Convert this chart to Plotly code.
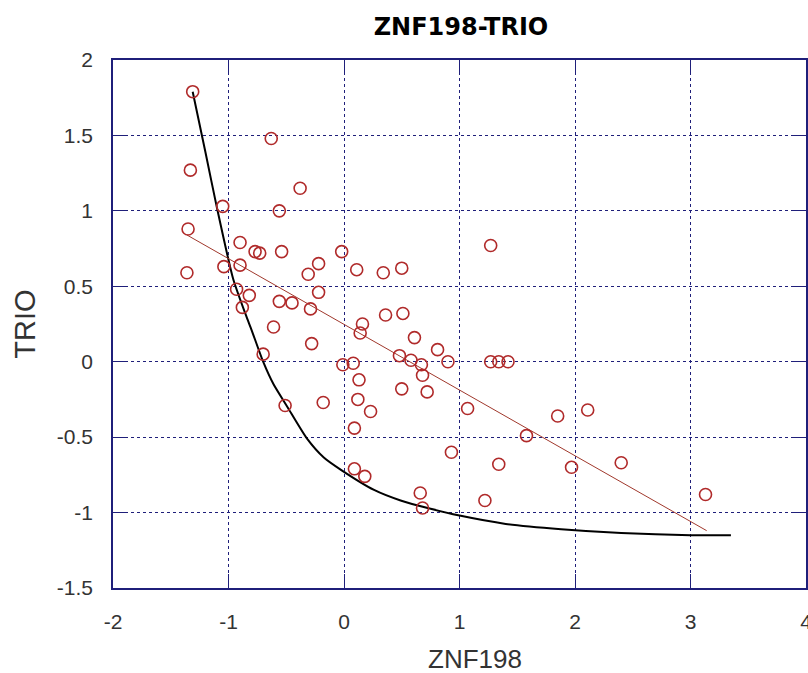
import plotly.graph_objects as go

# scatter data
znf198 = [-1.31, -0.63, -1.33, -0.38, -1.05, -0.56, -1.35, -0.90, -0.77, -0.73,
          -0.54, -0.02, -0.22, -1.36, -1.04, -0.90, -0.31, 0.11, 0.34, 0.50,
          1.27, -0.93, -0.82, -0.88, -0.56, -0.45, -0.22, -0.29, 0.36, 0.51,
          0.16, 0.14, -0.61, -0.28, -0.70, 0.61, 0.81, 0.48, 0.58, 0.67,
          0.90, -0.01, 0.08, 1.27, 1.34, 1.42, 0.68, 0.13, 0.50, 0.72,
          -0.18, -0.51, 0.12, 0.23, 1.07, 1.85, 2.11, 0.09, 1.58, 0.93,
          1.34, 1.97, 2.40, 0.09, 0.18, 0.66, 1.22, 0.68, 3.13]
trio = [1.79, 1.48, 1.27, 1.15, 1.03, 1.00, 0.88, 0.79, 0.73, 0.72,
        0.73, 0.73, 0.65, 0.59, 0.63, 0.64, 0.58, 0.61, 0.59, 0.62,
        0.77, 0.48, 0.44, 0.36, 0.40, 0.39, 0.46, 0.35, 0.31, 0.32,
        0.25, 0.19, 0.23, 0.12, 0.05, 0.16, 0.08, 0.04, 0.01, -0.02,
        0.00, -0.02, -0.01, 0.00, 0.00, 0.00, -0.09, -0.12, -0.18, -0.20,
        -0.27, -0.29, -0.25, -0.33, -0.31, -0.36, -0.32, -0.44, -0.49, -0.60,
        -0.68, -0.70, -0.67, -0.71, -0.76, -0.87, -0.92, -0.97, -0.88]

# linear fit line (endpoints)
fit_x = [-1.36, 3.14]
fit_y = [0.84, -1.12]

# black curve
curve_x = [-1.31, -1.20, -1.10, -0.96, -0.85, -0.80, -0.70, -0.61, -0.49, -0.32,
           -0.175, -0.02, 0.26, 0.49, 0.75, 1.00, 1.40, 1.88, 2.40, 3.00, 3.35]
curve_y = [1.79, 1.39, 1.02, 0.55, 0.31, 0.21, 0.00, -0.15, -0.30, -0.51,
           -0.635, -0.72, -0.85, -0.92, -0.975, -1.02, -1.075, -1.11, -1.135, -1.15, -1.15]

x_ticks = [-2, -1, 0, 1, 2, 3, 4]
y_ticks = [-1.5, -1, -0.5, 0, 0.5, 1, 1.5, 2]
y_tick_text = ["-1.5", "-1", "-0.5", "0", "0.5", "1", "1.5", "2"]

navy = "#1f1f7a"
fig = go.Figure()
fig.add_trace(go.Scatter(x=curve_x, y=curve_y, mode="lines",
                         line=dict(color="black", width=2, shape="spline", smoothing=0.6),
                         showlegend=False, hoverinfo="skip"))
fig.add_trace(go.Scatter(x=fit_x, y=fit_y, mode="lines",
                         line=dict(color="#a0382c", width=1),
                         showlegend=False, hoverinfo="skip"))
fig.add_trace(go.Scatter(x=znf198, y=trio, mode="markers",
                         marker=dict(symbol="circle-open", size=12,
                                     color="#b02a2a", line=dict(width=1.6)),
                         showlegend=False))

fig.update_layout(
    width=808, height=673,
    margin=dict(l=113, r=1.5, t=60, b=85),
    paper_bgcolor="white", plot_bgcolor="white",
    font=dict(family="Liberation Sans, Arial, sans-serif", color="#333"),
    title=dict(text="<b>ZNF198-TRIO</b>", x=0.5705, xanchor="center",
               y=0.9599, yanchor="middle",
               font=dict(family="DejaVu Sans", size=24, color="black")),
    annotations=[dict(text="ZNF198", xref="paper", yref="paper",
                      x=0.522, y=-0.134, xanchor="center", yanchor="middle",
                      showarrow=False, font=dict(size=26, color="#333"))],
)
fig.update_xaxes(range=[-2, 4], tickvals=x_ticks, ticktext=[str(v) for v in x_ticks],
                 showgrid=True, gridcolor=navy, griddash="dot", gridwidth=1,
                 showline=True, linecolor=navy, linewidth=1.5, mirror="allticks",
                 ticks="inside", ticklen=14, tickcolor=navy, zeroline=False,
                 tickfont=dict(size=21, color="#333"), ticklabelstandoff=14,
                 ticklabeloverflow="allow", automargin=False)
fig.update_yaxes(range=[-1.5, 2], tickvals=y_ticks, ticktext=y_tick_text,
                 showgrid=True, gridcolor=navy, griddash="dot", gridwidth=1,
                 showline=True, linecolor=navy, linewidth=1.5, mirror="allticks",
                 ticks="inside", ticklen=14, tickcolor=navy, zeroline=False,
                 tickfont=dict(size=21, color="#333"), ticklabelstandoff=14,
                 title=dict(text="TRIO", font=dict(size=29, color="#333"), standoff=13))

fig.write_html("out.html", config={"displayModeBar": False},
               post_script="document.body.style.margin='0';document.body.style.overflow='hidden';")
